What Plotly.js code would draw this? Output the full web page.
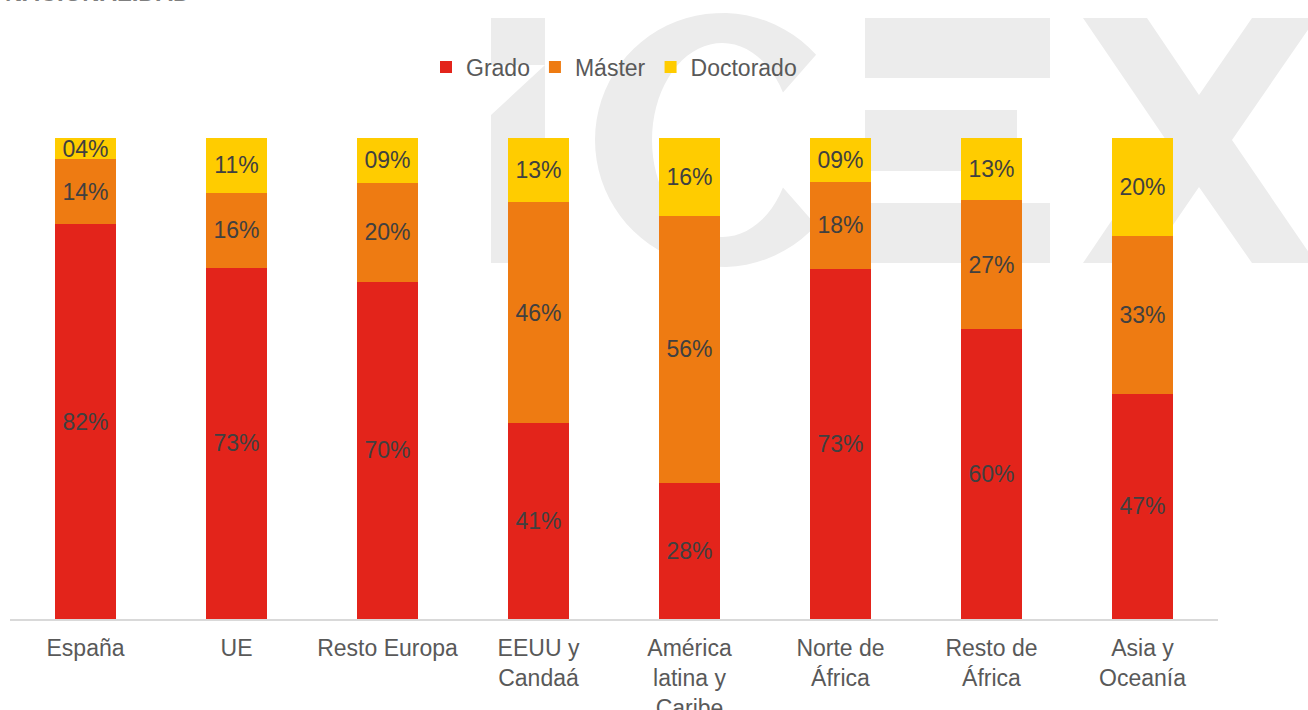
<!DOCTYPE html>
<html>
<head>
<meta charset="utf-8">
<script src="https://cdn.plot.ly/plotly-3.0.1.min.js"></script>
<style>html,body{margin:0;padding:0;background:#fff;}#chart{width:1308px;height:710px;}</style>
</head>
<body>
<div id="chart"></div>
<script>
// ---- data ----
const categories = ['España','UE','Resto Europa','EEUU y Candaá','América latina y Caribe','Norte de África','Resto de África','Asia y Oceanía'];
const tickLabels = ['España','UE','Resto Europa','EEUU y<br>Candaá','América<br>latina y<br>Caribe','Norte de<br>África','Resto de<br>África','Asia y<br>Oceanía'];
const grado     = [0.821,0.730,0.701,0.407,0.283,0.728,0.603,0.468];
const master    = [0.135,0.156,0.206,0.459,0.555,0.181,0.268,0.329];
const doctorado = [0.044,0.114,0.093,0.134,0.162,0.091,0.129,0.203];
const gradoLabels     = ['82%','73%','70%','41%','28%','73%','60%','47%'];
const masterLabels    = ['14%','16%','20%','46%','56%','18%','27%','33%'];
const doctoradoLabels = ['04%','11%','09%','13%','16%','09%','13%','20%'];

const FONT = 'Liberation Sans, Arial, sans-serif';
const W = 1308, H = 710;
const M = {l:10, r:90, t:138, b:91};
const PW = W - M.l - M.r, PH = H - M.t - M.b;
const px = x => (x - M.l) / PW;
const py = y => (H - M.b - y) / PH;

function poly(pts){
  return 'M' + pts.map(p => px(p[0]).toFixed(5) + ',' + py(p[1]).toFixed(5)).join(' L') + ' Z';
}
// ---- watermark "iCEX" (decoration) ----
const wm = [];
const wmStyle = {type:'path', xref:'paper', yref:'paper', layer:'below', fillcolor:'#ececec', line:{width:0}};
// i
wm.push(Object.assign({path: poly([[491,18],[545,18],[545,263],[491,263],[491,115],[545,65],[491,65]])}, wmStyle));
// C
(function(){
  const cx = 722, cy = 140, R = 127, rx = 70, ry = 97;
  const pts = [];
  const a0 = 42.2, a1 = 360 - 42.2, b0 = 29.4, b1 = 360 - 29.4;
  for (let i = 0; i <= 60; i++) {
    const a = (a0 + (a1 - a0) * i / 60) * Math.PI / 180;
    pts.push([cx + R * Math.cos(a), cy - R * Math.sin(a)]);
  }
  for (let i = 0; i <= 60; i++) {
    const a = (b1 - (b1 - b0) * i / 60) * Math.PI / 180;
    pts.push([cx + rx * Math.cos(a), cy - ry * Math.sin(a)]);
  }
  wm.push(Object.assign({path: poly(pts)}, wmStyle));
})();
// E
wm.push(Object.assign({path: poly([[865,18],[1050,18],[1050,78],[865,78]])}, wmStyle));
wm.push(Object.assign({path: poly([[865,110],[1017,110],[1017,171],[865,171]])}, wmStyle));
wm.push(Object.assign({path: poly([[865,203],[1050,203],[1050,263],[865,263]])}, wmStyle));
// X
wm.push(Object.assign({path: poly([[1083,18],[1147,18],[1199,95],[1252,18],[1316,18],[1232,140],[1316,263],[1252,263],[1199,187],[1147,263],[1083,263],[1166,140]])}, wmStyle));

const textFont = {family: FONT, size: 23, color: '#404040'};
function bar(name, y, text, color){
  return {
    type:'bar', name:name, x:categories, y:y, text:text,
    textposition:'inside', insidetextanchor:'middle', textangle:0,
    constraintext:'none', texttemplate:'%{text}',
    insidetextfont:textFont, textfont:textFont,
    marker:{color:color, line:{width:0}},
    hoverinfo:'skip'
  };
}
const data = [
  bar('Grado', grado, gradoLabels, '#e3241b'),
  bar('Máster', master, masterLabels, '#ee7b12'),
  bar('Doctorado', doctorado, doctoradoLabels, '#ffcc00')
];

const layout = {
  width:W, height:H, margin:M,
  paper_bgcolor:'#ffffff', plot_bgcolor:'rgba(0,0,0,0)',
  barmode:'stack', bargap:0.6,
  font:{family:FONT, size:23, color:'#595959'},
  showlegend:true,
  legend:{orientation:'h', x:0.5, xanchor:'center', y:py(67), yanchor:'middle',
          bgcolor:'rgba(0,0,0,0)', font:{family:FONT, size:23, color:'#595959'},
          traceorder:'normal', itemwidth:30},
  xaxis:{type:'category', tickvals:categories, ticktext:tickLabels,
         showline:true, linecolor:'#d9d9d9', linewidth:1.5, ticks:'', showgrid:false,
         zeroline:false, ticklabelstandoff:8, tickfont:{family:FONT, size:23, color:'#595959'},
         fixedrange:true},
  yaxis:{range:[0,1], visible:false, showgrid:false, zeroline:false, fixedrange:true},
  shapes:wm,
  annotations:[{text:'NACIONALIDAD', xref:'paper', yref:'paper', x:px(192), xanchor:'right',
                y:py(-8), yanchor:'middle', showarrow:false,
                font:{family:FONT, size:24, color:'#7f7f7f', weight:'bold'}}],
  hovermode:false
};
Plotly.newPlot('chart', data, layout, {displayModeBar:false, staticPlot:true});
</script>
</body>
</html>
